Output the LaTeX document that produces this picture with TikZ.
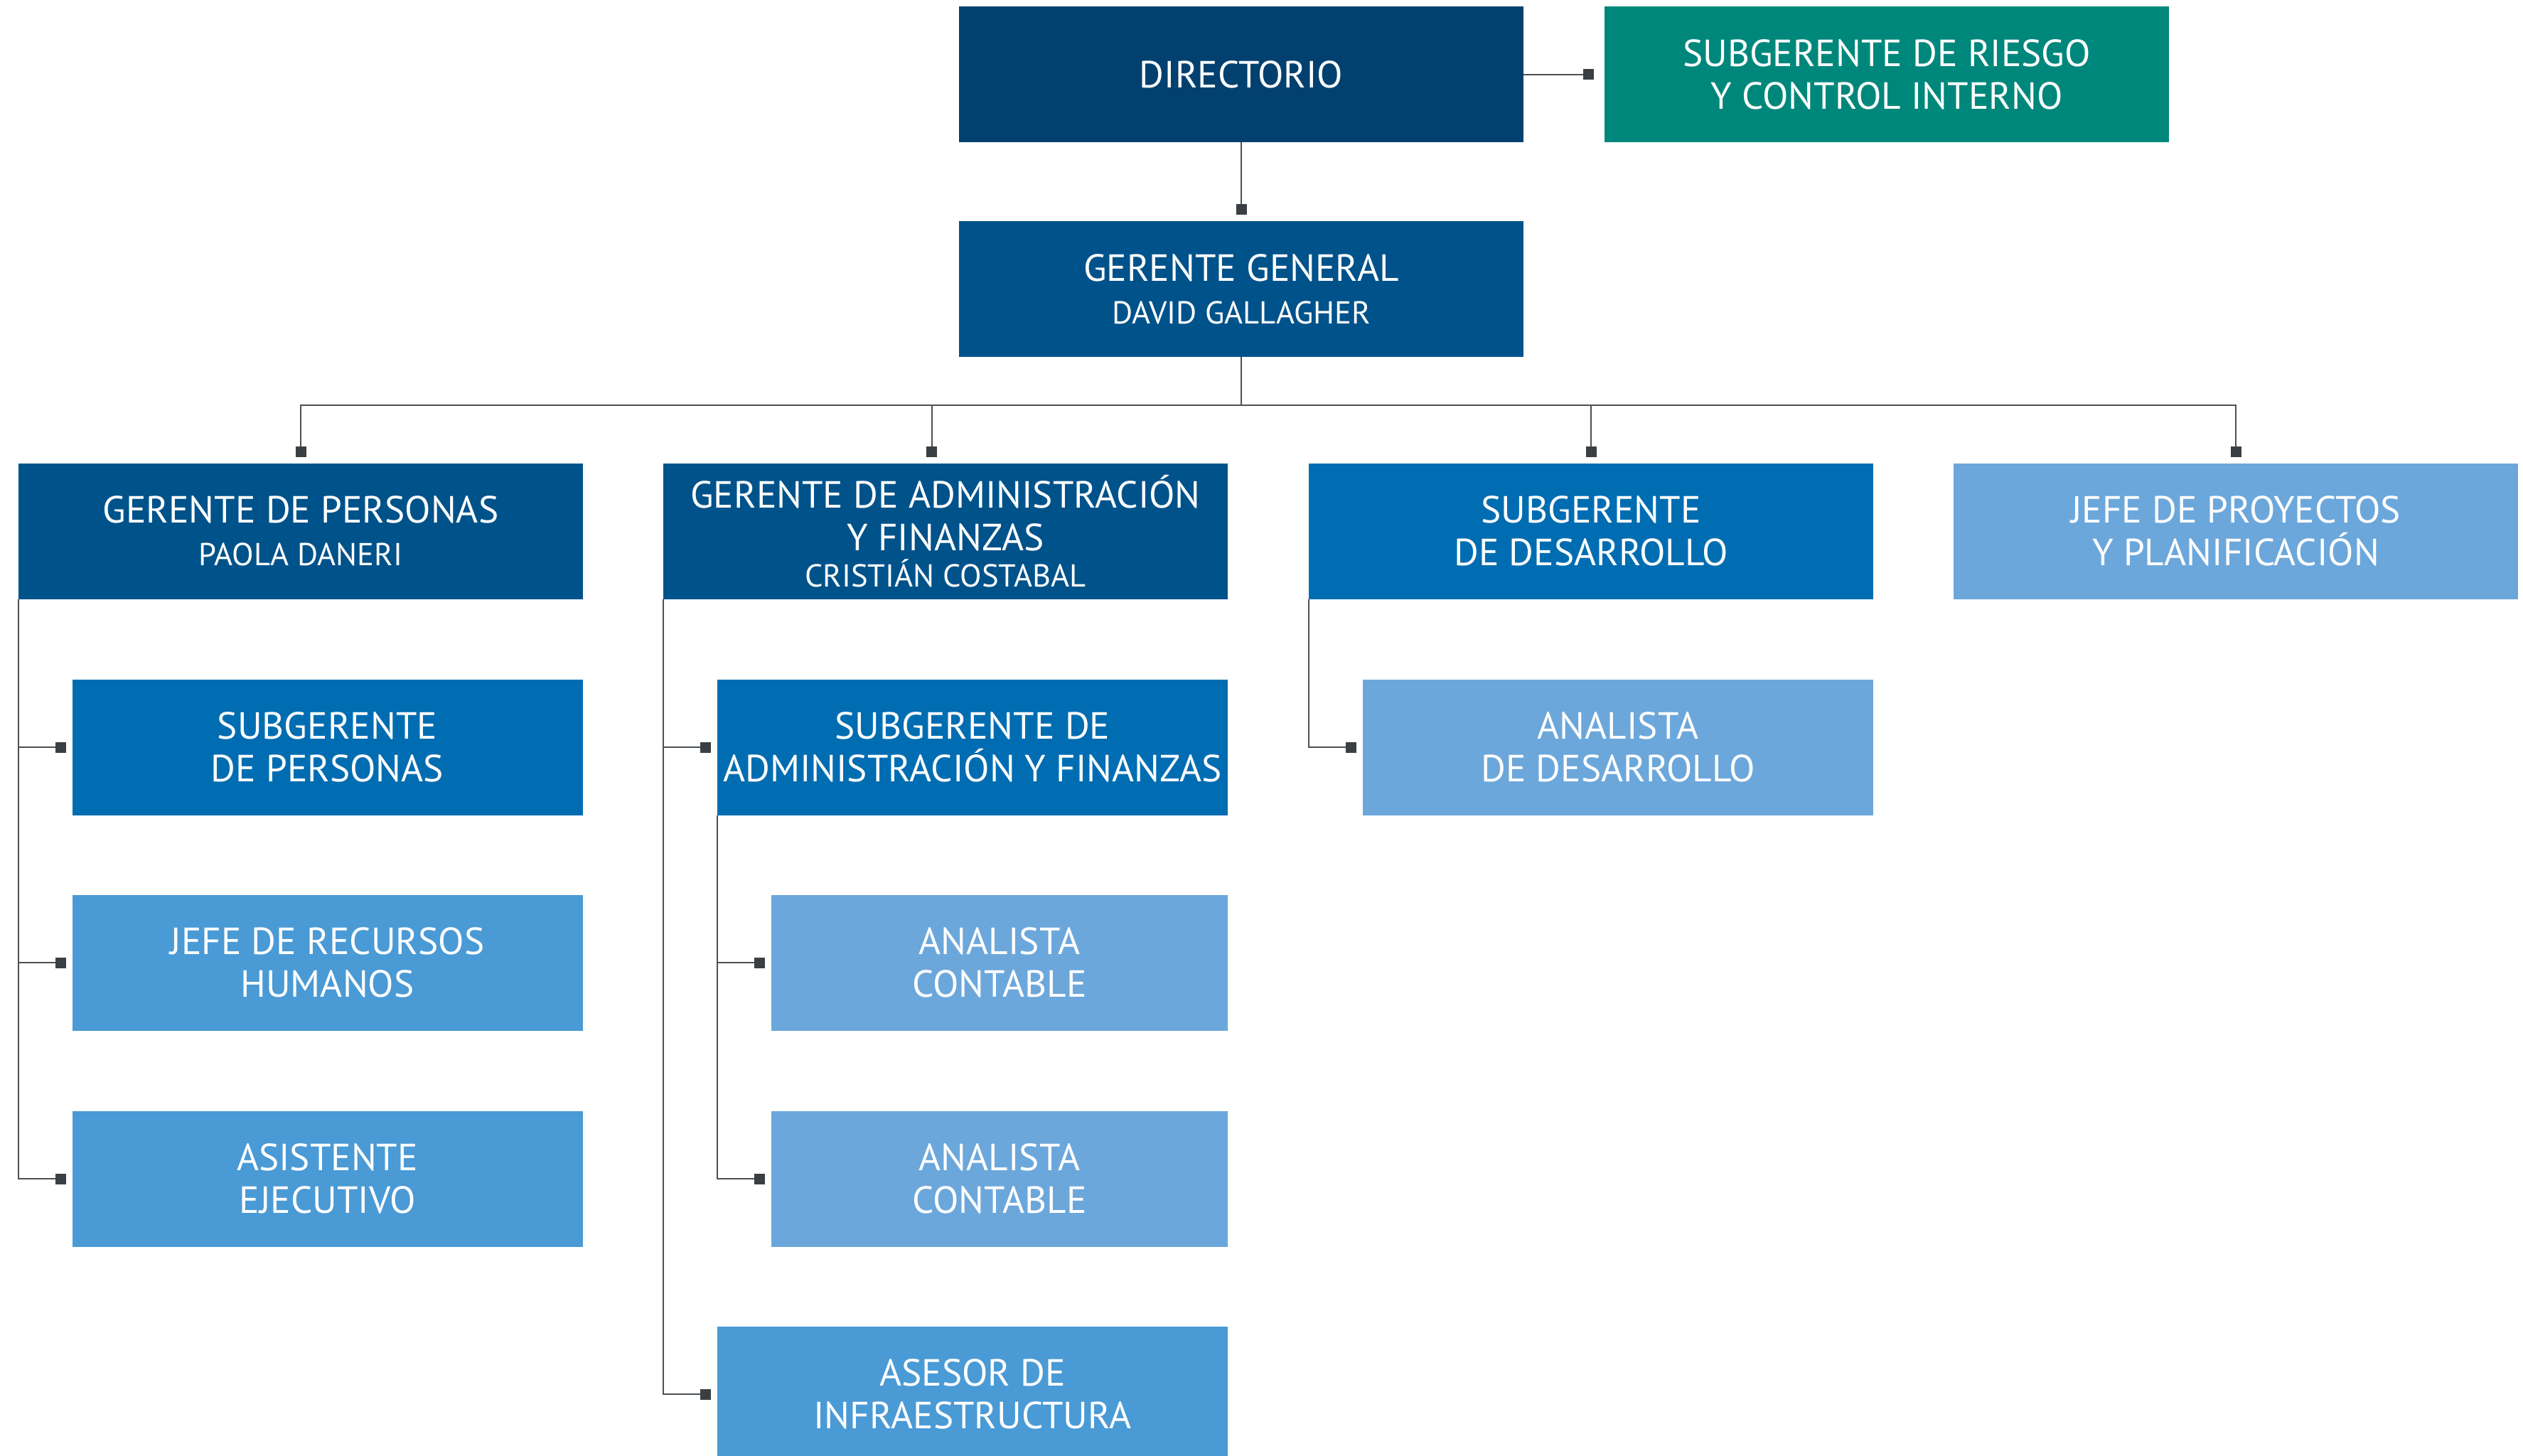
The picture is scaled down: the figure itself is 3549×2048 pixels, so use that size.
\documentclass[tikz,border=0pt]{standalone}
\usepackage{fontspec}
\setmainfont{PT Sans}
\usetikzlibrary{arrows.meta}
\definecolor{cdir}{HTML}{02416F}
\definecolor{cteal}{HTML}{00877B}
\definecolor{cnavy}{HTML}{00528A}
\definecolor{cmid}{HTML}{006DB2}
\definecolor{clight}{HTML}{4A9AD5}
\definecolor{cpale}{HTML}{6CA7DB}
\definecolor{linegray}{HTML}{4D4F52}
\definecolor{markgray}{HTML}{3A3F43}
\newcommand{\namefont}{\fontsize{22.3}{26}\selectfont}
\tikzset{
  box/.style={rectangle, inner sep=0pt, outer sep=0pt, text=white, align=center,
    minimum height=95.5pt, font=\fontsize{26.6}{30}\selectfont},
  wide/.style={box, minimum width=397pt},
  narrow/.style={box, minimum width=359pt},
  small/.style={box, minimum width=321pt},
  plain/.style={draw=linegray, line width=1pt},
  conn/.style={plain, -{Square[length=7.5pt,width=7.5pt,color=markgray]}, shorten >=4.5pt}
}
\begin{document}
\begin{tikzpicture}[x=0.5pt,y=-0.5pt]
\useasboundingbox (0,0) rectangle (3549,2048);
% top
\node[wide, fill=cdir] (dir) at (1746,105) {DIRECTORIO};
\node[wide, fill=cteal] (riesgo) at (2654,105) {SUBGERENTE DE RIESGO\\Y CONTROL INTERNO};
\node[wide, fill=cnavy] (gg) at (1746,407) {GERENTE GENERAL\\{\namefont DAVID GALLAGHER}};
% level 2
\node[wide, fill=cnavy] (pers) at (423,747) {GERENTE DE PERSONAS\\{\namefont PAOLA DANERI}};
\node[wide, fill=cnavy] (adm) at (1330,747) {GERENTE DE ADMINISTRACIÓN\\Y FINANZAS\\[-4.5pt]{\namefont CRISTIÁN COSTABAL}};
\node[wide, fill=cmid] (des) at (2238,747) {SUBGERENTE\\DE DESARROLLO};
\node[wide, fill=cpale] (proy) at (3145,747) {JEFE DE PROYECTOS\\Y PLANIFICACIÓN};
% column 1
\node[narrow, fill=cmid] (subpers) at (460.5,1051) {SUBGERENTE\\DE PERSONAS};
\node[narrow, fill=clight] (rrhh) at (460.5,1354) {JEFE DE RECURSOS\\HUMANOS};
\node[narrow, fill=clight] (asis) at (460.5,1658) {ASISTENTE\\EJECUTIVO};
% column 2
\node[narrow, fill=cmid] (subadm) at (1368,1051) {SUBGERENTE DE\\ADMINISTRACIÓN Y FINANZAS};
\node[small, fill=cpale] (ana1) at (1406,1354) {ANALISTA\\CONTABLE};
\node[small, fill=cpale] (ana2) at (1406,1658) {ANALISTA\\CONTABLE};
\node[narrow, fill=clight] (asesor) at (1368,1961) {ASESOR DE\\INFRAESTRUCTURA};
% column 3
\node[narrow, fill=cpale] (anades) at (2276,1051) {ANALISTA\\DE DESARROLLO};
% connectors
\draw[conn, shorten >=7.5pt] (dir.east) -- (riesgo.west);
\draw[conn] (dir.south) -- (gg.north);
\coordinate (bus) at (1746,570);
\draw[plain] (gg.south) -- (bus);
\draw[conn] (bus) -| (pers.north);
\draw[conn] (bus) -| ([xshift=-9.75pt]adm.north);
\draw[conn] (bus) -| (des.north);
\draw[conn] (bus) -| (proy.north);
\draw[conn] (pers.south west) |- (subpers.west);
\draw[conn] (pers.south west) |- (rrhh.west);
\draw[conn] (pers.south west) |- (asis.west);
\draw[conn] (adm.south west) |- (subadm.west);
\draw[conn] (adm.south west) |- (asesor.west);
\draw[conn] (subadm.south west) |- (ana1.west);
\draw[conn] (subadm.south west) |- (ana2.west);
\draw[conn] (des.south west) |- (anades.west);
\end{tikzpicture}
\end{document}
